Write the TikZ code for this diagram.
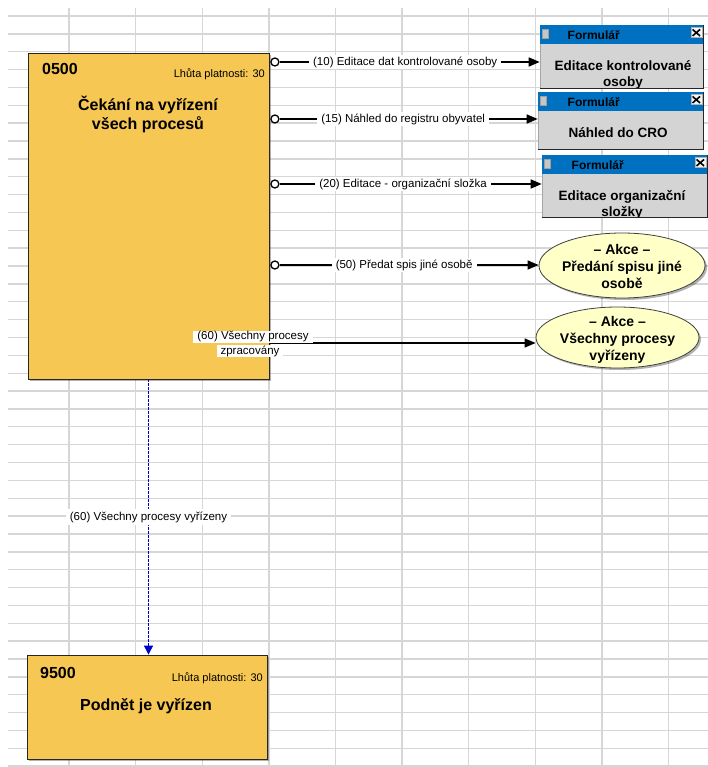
\documentclass[tikz,border=0pt]{standalone}
\usepackage{fontspec}
\setmainfont{Liberation Sans}
\usetikzlibrary{arrows.meta,shapes.geometric,shadows,calc}
\definecolor{boxfill}{RGB}{246,199,82}
\definecolor{formblue}{RGB}{0,112,192}
\definecolor{formgray}{RGB}{212,212,212}
\definecolor{ellfill}{RGB}{255,255,200}
\definecolor{gridc}{RGB}{214,214,214}
\definecolor{flowblue}{RGB}{0,0,205}
\newcommand{\fsz}[2]{\fontsize{#1}{#2}\selectfont}
\begin{document}
\begin{tikzpicture}[x=1pt,y=-1pt,
 shadowed/.style={drop shadow={shadow xshift=2pt,shadow yshift=-2pt,fill=black,opacity=0.3}},
 statebox/.style={shadowed,draw=black!85,line width=0.8pt,fill=boxfill,inner sep=0pt},
 idtext/.style={font=\bfseries\fsz{16}{19},anchor=base west,inner sep=0pt},
 lhuta/.style={font=\fsz{11}{13},anchor=base east,inner sep=0pt},
 boxtitle/.style={font=\bfseries\fsz{16}{19},align=center,inner sep=0pt},
 formbody/.style={fill=formgray,draw=gray!70,line width=0.6pt,inner sep=0pt},
 formbar/.style={fill=formblue,inner sep=0pt,anchor=north},
 formtitle/.style={font=\bfseries\fsz{12}{13},inner sep=0pt},
 formtext/.style={font=\bfseries\fsz{13.5}{16},align=center,inner sep=0pt},
 formicon/.style={fill=gray!45,draw=gray!75,line width=0.5pt,minimum width=6pt,minimum height=9pt,inner sep=0pt},
 formclose/.style={fill=gray!8,draw=gray!60,line width=0.5pt,minimum width=11pt,minimum height=10pt,inner sep=0pt},
 actell/.style={ellipse,shadowed,draw=black!75,line width=0.8pt,fill=ellfill,inner sep=0pt},
 acttext/.style={font=\bfseries\fsz{14}{17},align=center,inner sep=0pt},
 port/.style={circle,draw=black,fill=white,line width=1.3pt,minimum size=8pt,inner sep=0pt},
 conn/.style={line width=1.5pt,-{Triangle[length=11pt,width=9pt]}},
 lbl/.style={font=\fsz{11.5}{14},text=black,fill=white,inner xsep=4pt,inner ysep=2pt},
 flow/.style={flowblue,line width=0.9pt,dash pattern=on 2.5pt off 1.5pt,-{Triangle[length=9pt,width=9pt]}},
]
\useasboundingbox (0,0) rectangle (708,767);
\fill[white] (0,0) rectangle (708,767);
% grid
\foreach \k in {0,...,42} \draw[gridc,line width=1.4pt] (8,{16+17.86*\k}) -- (708,{16+17.86*\k});
\foreach \j in {0,...,9} \draw[gridc,line width=1.4pt] ({69+66.6*\j},8) -- ({69+66.6*\j},767);

% state boxes
\node[statebox,minimum width=241pt,minimum height=326pt] (A) at (148.5,216) {};
\node[idtext] (Aid) at (42,75) {0500};
\node[lhuta] (Alh) at (265,78) {Lhůta platnosti: 30};
\node[boxtitle] (Atitle) at (148,114) {Čekání na vyřízení\\všech procesů};

\node[statebox,minimum width=240pt,minimum height=104pt] (B) at (147,707) {};
\node[idtext] (Bid) at (40,678) {9500};
\node[lhuta] (Blh) at (263,681) {Lhůta platnosti: 30};
\node[boxtitle,anchor=base] (Btitle) at (146,710) {Podnět je vyřízen};

% form 1
\node[formbody,minimum width=163pt,minimum height=63pt] (F1) at (621.5,56.5) {};
\begin{scope}
\clip (F1.north west) rectangle (F1.south east);
\node[formtext] (F1b) at (623,75) {Editace kontrolované\\osoby};
\end{scope}
\node[formbar,minimum width=163pt,minimum height=19pt] (F1bar) at (F1.north) {};
\node[formtitle] (F1t) at ($(F1.north west)+(54,10)$) {Formulář};
\node[formicon] (F1i) at ($(F1.north west)+(6,9)$) {};
\node[formclose] (F1x) at ($(F1.north east)+(-7,8)$) {};
\draw[line width=1.6pt] ($(F1x.north west)+(2,2)$) -- ($(F1x.south east)+(-2,-2)$) ($(F1x.north east)+(-2,2)$) -- ($(F1x.south west)+(2,-2)$);
\draw[black!85,line width=1.2pt] (F1.north east) -- (F1.south east) -- (F1.south west);

% form 2
\node[formbody,minimum width=165pt,minimum height=57pt] (F2) at (620.5,120.5) {};
\node[formtext,anchor=base] (F2b) at (618,138) {Náhled do CRO};
\node[formbar,minimum width=165pt,minimum height=19pt] (F2bar) at (F2.north) {};
\node[formtitle] (F2t) at ($(F2.north west)+(56,10)$) {Formulář};
\node[formicon] (F2i) at ($(F2.north west)+(6,9)$) {};
\node[formclose] (F2x) at ($(F2.north east)+(-7,8)$) {};
\draw[line width=1.6pt] ($(F2x.north west)+(2,2)$) -- ($(F2x.south east)+(-2,-2)$) ($(F2x.north east)+(-2,2)$) -- ($(F2x.south west)+(2,-2)$);
\draw[black!85,line width=1.2pt] (F2.north east) -- (F2.south east) -- (F2.south west);

% form 3
\node[formbody,minimum width=165pt,minimum height=62pt] (F3) at (624.5,186) {};
\begin{scope}
\clip (F3.north west) rectangle (F3.south east);
\node[formtext] (F3b) at (622,205) {Editace organizační\\složky};
\end{scope}
\node[formbar,minimum width=165pt,minimum height=19pt] (F3bar) at (F3.north) {};
\node[formtitle] (F3t) at ($(F3.north west)+(56,10)$) {Formulář};
\node[formicon] (F3i) at ($(F3.north west)+(6,9)$) {};
\node[formclose] (F3x) at ($(F3.north east)+(-7,8)$) {};
\draw[line width=1.6pt] ($(F3x.north west)+(2,2)$) -- ($(F3x.south east)+(-2,-2)$) ($(F3x.north east)+(-2,2)$) -- ($(F3x.south west)+(2,-2)$);
\draw[black!85,line width=1.2pt] (F3.north east) -- (F3.south east) -- (F3.south west);

% actions
\node[actell,minimum width=166pt,minimum height=65pt] (E1) at (622,265.5) {};
\node[acttext] (E1t) at (622,266) {– Akce –\\Předání spisu jiné\\osobě};
\node[actell,minimum width=163pt,minimum height=61pt] (E2) at (617.5,337.5) {};
\node[acttext] (E2t) at (617.5,340) {– Akce –\\Všechny procesy\\vyřízeny};

% connector ports
\node[port] (p1) at ($(A.east |- 0,62)+(5.5,0)$) {};
\node[port] (p2) at ($(A.east |- 0,119)+(5.5,0)$) {};
\node[port] (p3) at ($(A.east |- 0,184)+(5.5,0)$) {};
\node[port] (p4) at ($(A.east |- 0,265)+(5.5,0)$) {};

% connectors
\draw[conn] (p1) -- node[lbl,pos=0.483]{(10) Editace dat kontrolované osoby} (F1.west |- p1);
\draw[conn] (p2) -- node[lbl,pos=0.479]{(15) Náhled do registru obyvatel} (F2.west |- p2);
\draw[conn] (p3) -- node[lbl,pos=0.471]{(20) Editace - organizační složka} (F3.west |- p3);
\draw[conn] (p4) -- node[lbl,pos=0.481]{(50) Předat spis jiné osobě} (E1.west |- p4);
\draw[conn] (A.east |- 0,343) -- (E2.west |- 0,343);
\node[lbl,inner ysep=1pt] (L5a) at (253,337) {(60) Všechny procesy};
\node[lbl,inner ysep=1pt] (L5b) at (250,351) {zpracovány};

\draw[flow] (A.south) -- node[lbl,inner ysep=3pt]{(60) Všechny procesy vyřízeny} (A.south |- B.north);
\end{tikzpicture}
\end{document}
